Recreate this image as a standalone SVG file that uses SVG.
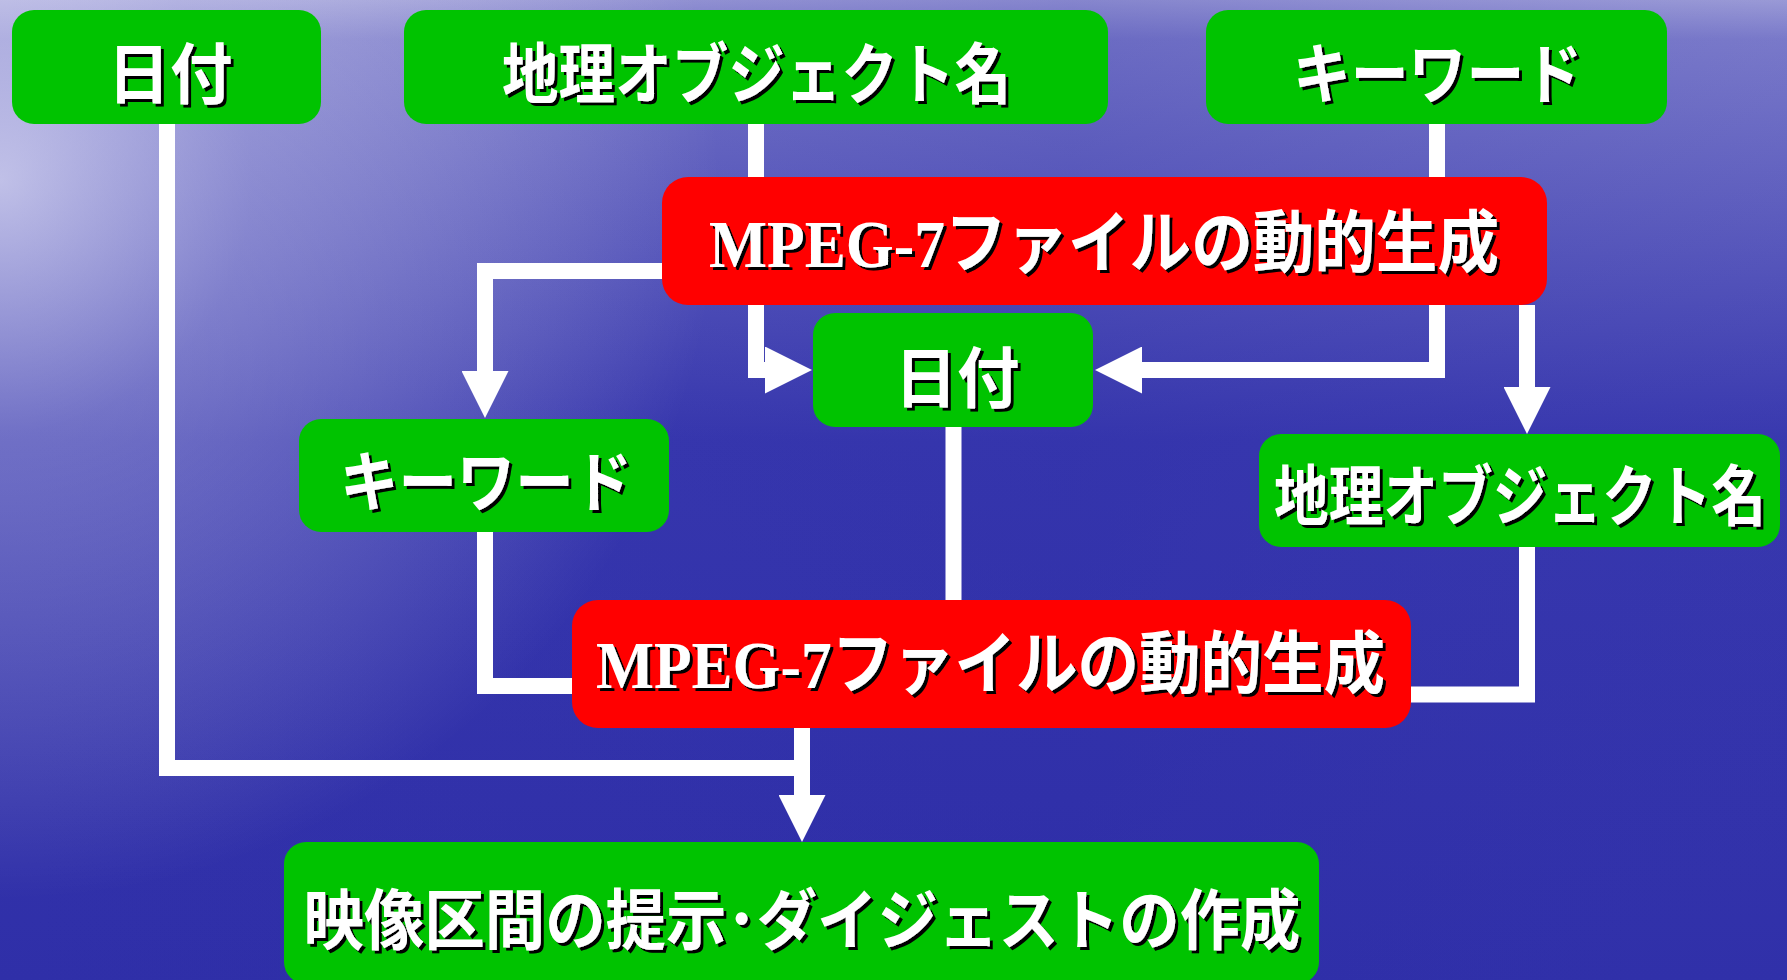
<svg xmlns="http://www.w3.org/2000/svg" width="1787" height="980" viewBox="0 0 1787 980">
<defs>
  <linearGradient id="bgv" x1="0" y1="0" x2="0" y2="1">
    <stop offset="0" stop-color="#a4a4da"/>
    <stop offset="0.04" stop-color="#8080cc"/>
    <stop offset="0.45" stop-color="#3838ae"/>
    <stop offset="1" stop-color="#2f2fa8"/>
  </linearGradient>
  <radialGradient id="glow" cx="0" cy="180" r="720" gradientUnits="userSpaceOnUse">
    <stop offset="0" stop-color="#f0f0fc" stop-opacity="0.65"/>
    <stop offset="0.35" stop-color="#d8d8f2" stop-opacity="0.35"/>
    <stop offset="1" stop-color="#ffffff" stop-opacity="0"/>
  </radialGradient>
  <linearGradient id="dark" x1="0" y1="0" x2="1" y2="0">
    <stop offset="0" stop-color="#2a2aa6" stop-opacity="0"/>
    <stop offset="0.6" stop-color="#2a2aa6" stop-opacity="0.5"/>
    <stop offset="1" stop-color="#3a3ab2" stop-opacity="0.2"/>
  </linearGradient>
  <filter id="sh" x="-1%" y="-10%" width="102%" height="125%">
    <feOffset in="SourceAlpha" dx="2.5" dy="2.5" result="o"/>
    <feMerge><feMergeNode in="o"/><feMergeNode in="SourceGraphic"/></feMerge>
  </filter>
  <marker id="ah" markerUnits="userSpaceOnUse" viewBox="0 0 47 47" markerWidth="47" markerHeight="47" refX="0" refY="23.5" orient="auto">
    <path d="M0,0 L47,23.5 L0,47 Z" fill="#ffffff"/>
  </marker>
  <style>
    .g { fill: #00c300; }
    .r { fill: #ff0000; }
    .t { fill: #ffffff; font-family: "Noto Sans CJK JP", "Noto Sans CJK SC", sans-serif; font-weight: bold; font-size: 66px; text-anchor: middle; filter: url(#sh); }
    .m { fill: #ffffff; font-family: "Liberation Serif", "Noto Sans CJK JP", serif; font-weight: bold; font-size: 68px; text-anchor: middle; filter: url(#sh); }
    .c { fill: none; stroke: #ffffff; stroke-width: 16; stroke-linejoin: miter; stroke-linecap: butt; }
  </style>
</defs>

<g id="background">
  <rect x="0" y="0" width="1787" height="980" fill="url(#bgv)"/>
  <rect x="0" y="0" width="1787" height="980" fill="url(#dark)" opacity="0.5"/>
  <rect x="0" y="0" width="1787" height="980" fill="url(#glow)"/>
</g>

<g id="connectors">
  <path class="c" d="M167,124 V768 H802"/>
  <path class="c" d="M756,124 V370 H765" marker-end="url(#ah)"/>
  <path class="c" d="M1437,124 V370 H1142" marker-end="url(#ah)"/>
  <path class="c" d="M662,271 H485 V371" marker-end="url(#ah)"/>
  <path class="c" d="M1527,305 V387" marker-end="url(#ah)"/>
  <path class="c" d="M953.5,427 V600"/>
  <path class="c" d="M485,532 V686 H572"/>
  <path class="c" d="M1527,547 V694.5 H1410"/>
  <path class="c" d="M802,728 V795" marker-end="url(#ah)"/>
</g>

<g id="node-date-top">
  <rect class="g" x="12" y="10" width="309" height="114" rx="22"/>
  <text class="t" x="170" y="98" textLength="125" lengthAdjust="spacingAndGlyphs">日付</text>
</g>
<g id="node-geo-top">
  <rect class="g" x="404" y="10" width="704" height="114" rx="22"/>
  <text class="t" x="756.5" y="98" textLength="509" lengthAdjust="spacingAndGlyphs">地理オブジェクト名</text>
</g>
<g id="node-keyword-top">
  <rect class="g" x="1206" y="10" width="461" height="114" rx="22"/>
  <text class="t" x="1437.5" y="98" textLength="289" lengthAdjust="spacingAndGlyphs">キーワード</text>
</g>
<g id="node-mpeg7-1">
  <rect class="r" x="662" y="177" width="885" height="128" rx="26"/>
  <text class="m" x="1104" y="267" textLength="790" lengthAdjust="spacingAndGlyphs">MPEG-7ファイルの動的生成</text>
</g>
<g id="node-date-mid">
  <rect class="g" x="813" y="313" width="280" height="114" rx="22"/>
  <text class="t" x="957" y="402" textLength="125" lengthAdjust="spacingAndGlyphs">日付</text>
</g>
<g id="node-keyword-mid">
  <rect class="g" x="299" y="419" width="370" height="113" rx="22"/>
  <text class="t" x="486" y="506" textLength="292" lengthAdjust="spacingAndGlyphs">キーワード</text>
</g>
<g id="node-geo-right">
  <rect class="g" x="1259" y="434" width="521" height="113" rx="22"/>
  <text class="t" x="1520" y="520" font-size="62" textLength="492" lengthAdjust="spacingAndGlyphs">地理オブジェクト名</text>
</g>
<g id="node-mpeg7-2">
  <rect class="r" x="572" y="600" width="839" height="128" rx="26"/>
  <text class="m" x="990.5" y="688" textLength="789" lengthAdjust="spacingAndGlyphs">MPEG-7ファイルの動的生成</text>
</g>
<g id="node-result">
  <rect class="g" x="284" y="842" width="1035" height="142" rx="22"/>
  <text class="t" x="802" y="944" textLength="997" lengthAdjust="spacingAndGlyphs">映像区間の提示･ダイジェストの作成</text>
</g>
</svg>
